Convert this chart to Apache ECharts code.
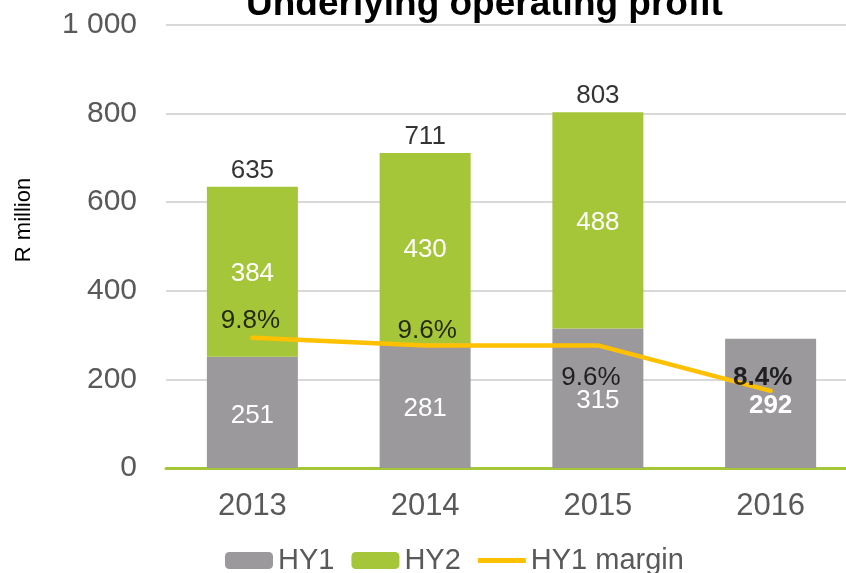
<!DOCTYPE html>
<html>
<head>
<meta charset="utf-8">
<script src="https://cdn.jsdelivr.net/npm/echarts@6/dist/echarts.min.js"></script>
<style>html,body{margin:0;padding:0;background:#fff}#c{width:846px;height:573px}</style>
</head>
<body>
<div id="c"></div>
<script>
var categories = ['2013', '2014', '2015', '2016'];
var hy1 = [251, 281, 315, 292];
var hy2 = [384, 430, 488, null];
var hy1Margin = [9.8, 9.6, 9.6, 8.4];

var totals = categories.map(function (c, i) {
  return hy2[i] == null ? null : hy1[i] + hy2[i];
});

var FONT = '"Liberation Sans", Arial, sans-serif';
var chart = echarts.init(document.getElementById('c'));

function fmtThousands(v) {
  return String(v).replace(/\B(?=(\d{3})+(?!\d))/g, ' ');
}

var marginLabelCfg = [
  { position: 'top', distance: 4, offset: [-2, 0] },
  { position: 'top', distance: 2, offset: [2, 0] },
  { position: 'bottom', distance: 5, offset: [-7, 14] },
  { position: 'top', distance: 0, offset: [-8, 0], fontWeight: 'bold' }
];

chart.setOption({
  animation: false,
  textStyle: { fontFamily: FONT },
  title: {
    text: 'Underlying operating profit',
    left: 241,
    top: -19,
    textStyle: { fontFamily: FONT, fontSize: 37, fontWeight: 'bold', color: '#000' }
  },
  graphic: [{
    type: 'text',
    x: 24, y: 220,
    rotation: Math.PI / 2,
    style: {
      text: 'R million',
      fontFamily: FONT, fontSize: 22, fill: '#000',
      textAlign: 'center', textVerticalAlign: 'middle'
    }
  }],
  legend: {
    data: ['HY1', 'HY2', { name: 'HY1 margin', icon: 'path://M0,0L48,0L48,5L0,5Z' }],
    left: 220,
    top: 541,
    itemWidth: 48,
    itemHeight: 17,
    itemGap: 17,
    textStyle: { fontFamily: FONT, fontSize: 29, color: '#595959' }
  },
  grid: { left: 166, right: -11, top: 25, bottom: 105, outerBoundsMode: 'none', containLabel: false },
  xAxis: {
    type: 'category',
    data: categories,
    axisLine: { show: true, lineStyle: { color: '#a6c639', width: 3 } },
    axisTick: { show: false },
    axisLabel: { fontFamily: FONT, fontSize: 31, color: '#595959', margin: 23 }
  },
  yAxis: [{
    type: 'value',
    min: 0, max: 1000, interval: 200,
    axisLine: { show: false },
    axisTick: { show: false },
    splitLine: { lineStyle: { color: '#d9d9d9', width: 2 } },
    axisLabel: { fontFamily: FONT, fontSize: 30, color: '#595959', margin: 29, formatter: fmtThousands }
  }, {
    type: 'value',
    min: 6.36, max: 18.07,
    show: false,
    splitLine: { show: false }
  }],
  series: [{
    name: 'HY1',
    type: 'bar',
    stack: 'p',
    barWidth: 91,
    itemStyle: { color: '#9b999c' },
    label: {
      show: true, position: 'inside', color: '#fff',
      fontFamily: FONT, fontSize: 26, offset: [0, 3]
    },
    data: hy1.map(function (v, i) {
      return i === 3 ? { value: v, label: { fontWeight: 'bold' } } : v;
    })
  }, {
    name: 'HY2',
    type: 'bar',
    stack: 'p',
    barWidth: 91,
    itemStyle: { color: '#a6c639' },
    label: {
      show: true, position: 'inside', color: '#fff',
      fontFamily: FONT, fontSize: 26, offset: [0, 2]
    },
    data: hy2
  }, {
    name: 'Total',
    type: 'scatter',
    symbolSize: 0,
    silent: true,
    label: {
      show: true, position: 'top', distance: 3, color: '#000',
      fontFamily: FONT, fontSize: 26,
      formatter: function (p) { return p.value; }
    },
    data: totals,
    z: 5
  }, {
    name: 'HY1 margin',
    type: 'line',
    yAxisIndex: 1,
    symbol: 'none',
    lineStyle: { color: '#ffc000', width: 4.5, cap: 'round', join: 'round' },
    itemStyle: { color: '#ffc000' },
    data: hy1Margin,
    z: 4
  }, {
    name: 'Margin labels',
    type: 'scatter',
    yAxisIndex: 1,
    symbolSize: 0,
    silent: true,
    label: {
      show: true, color: '#000', fontFamily: FONT, fontSize: 26,
      formatter: function (p) { return p.value.toFixed(1) + '%'; }
    },
    data: hy1Margin.map(function (v, i) {
      var c = marginLabelCfg[i];
      return {
        value: v,
        label: {
          position: c.position, distance: c.distance, offset: c.offset,
          fontWeight: c.fontWeight || 'normal'
        }
      };
    }),
    z: 6
  }]
});
</script>
</body>
</html>
